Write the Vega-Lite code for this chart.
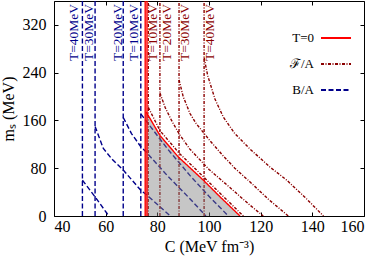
{
  "$schema": "https://vega.github.io/schema/vega-lite/v6.json",
  "width": 310,
  "height": 215,
  "autosize": {"type": "none"},
  "padding": {"left": 54, "top": 1, "right": 10, "bottom": 41},
  "background": "white",
  "config": {
    "font": "Liberation Serif, Times New Roman, serif",
    "view": {"stroke": "black", "strokeWidth": 1},
    "axis": {"grid": false, "domainColor": "black", "tickColor": "black", "labelColor": "black", "titleColor": "black", "labelFont": "Liberation Serif, Times New Roman, serif", "titleFont": "Liberation Serif, Times New Roman, serif", "titleFontWeight": "normal"}
  },
  "datasets": {
    "lines": [
      {"id": "b40v", "s": "B/A", "o": 0, "C": 51.0, "m": 0},
      {"id": "b40v", "s": "B/A", "o": 1, "C": 51.0, "m": 360},
      {"id": "b30v", "s": "B/A", "o": 0, "C": 55.9, "m": 0},
      {"id": "b30v", "s": "B/A", "o": 1, "C": 55.9, "m": 360},
      {"id": "b20v", "s": "B/A", "o": 0, "C": 66.8, "m": 0},
      {"id": "b20v", "s": "B/A", "o": 1, "C": 66.8, "m": 360},
      {"id": "b10v", "s": "B/A", "o": 0, "C": 73.6, "m": 0},
      {"id": "b10v", "s": "B/A", "o": 1, "C": 73.6, "m": 360},
      {"id": "b40c", "s": "B/A", "o": 0, "C": 51.0, "m": 60},
      {"id": "b40c", "s": "B/A", "o": 1, "C": 55.9, "m": 32},
      {"id": "b40c", "s": "B/A", "o": 2, "C": 60.4, "m": 5},
      {"id": "b40c", "s": "B/A", "o": 3, "C": 61.2, "m": 0},
      {"id": "b30c", "s": "B/A", "o": 0, "C": 55.9, "m": 150},
      {"id": "b30c", "s": "B/A", "o": 1, "C": 59.1, "m": 113},
      {"id": "b30c", "s": "B/A", "o": 2, "C": 62.5, "m": 95},
      {"id": "b30c", "s": "B/A", "o": 3, "C": 66.8, "m": 77},
      {"id": "b30c", "s": "B/A", "o": 4, "C": 73.6, "m": 43},
      {"id": "b30c", "s": "B/A", "o": 5, "C": 75.7, "m": 36},
      {"id": "b30c", "s": "B/A", "o": 6, "C": 85.0, "m": 0},
      {"id": "b20c", "s": "B/A", "o": 0, "C": 66.8, "m": 165},
      {"id": "b20c", "s": "B/A", "o": 1, "C": 70.0, "m": 138},
      {"id": "b20c", "s": "B/A", "o": 2, "C": 73.6, "m": 116},
      {"id": "b20c", "s": "B/A", "o": 3, "C": 75.7, "m": 107},
      {"id": "b20c", "s": "B/A", "o": 4, "C": 84.0, "m": 67},
      {"id": "b20c", "s": "B/A", "o": 5, "C": 92.6, "m": 29},
      {"id": "b20c", "s": "B/A", "o": 6, "C": 98.8, "m": 0},
      {"id": "b10c", "s": "B/A", "o": 0, "C": 73.6, "m": 171},
      {"id": "b10c", "s": "B/A", "o": 1, "C": 75.7, "m": 159},
      {"id": "b10c", "s": "B/A", "o": 2, "C": 84.0, "m": 112},
      {"id": "b10c", "s": "B/A", "o": 3, "C": 92.6, "m": 68},
      {"id": "b10c", "s": "B/A", "o": 4, "C": 100.0, "m": 33},
      {"id": "b10c", "s": "B/A", "o": 5, "C": 107.5, "m": 0},
      {"id": "f10v", "s": "ℱ/A", "o": 0, "C": 76.5, "m": 0},
      {"id": "f10v", "s": "ℱ/A", "o": 1, "C": 76.5, "m": 360},
      {"id": "f20v", "s": "ℱ/A", "o": 0, "C": 81.0, "m": 0},
      {"id": "f20v", "s": "ℱ/A", "o": 1, "C": 81.0, "m": 360},
      {"id": "f30v", "s": "ℱ/A", "o": 0, "C": 88.4, "m": 0},
      {"id": "f30v", "s": "ℱ/A", "o": 1, "C": 88.4, "m": 360},
      {"id": "f40v", "s": "ℱ/A", "o": 0, "C": 98.1, "m": 0},
      {"id": "f40v", "s": "ℱ/A", "o": 1, "C": 98.1, "m": 360},
      {"id": "f10c", "s": "ℱ/A", "o": 0, "C": 76.5, "m": 182},
      {"id": "f10c", "s": "ℱ/A", "o": 1, "C": 81.0, "m": 143},
      {"id": "f10c", "s": "ℱ/A", "o": 2, "C": 88.5, "m": 105},
      {"id": "f10c", "s": "ℱ/A", "o": 3, "C": 98.0, "m": 65},
      {"id": "f10c", "s": "ℱ/A", "o": 4, "C": 105.0, "m": 35},
      {"id": "f10c", "s": "ℱ/A", "o": 5, "C": 113.3, "m": 0},
      {"id": "f20c", "s": "ℱ/A", "o": 0, "C": 81.0, "m": 206},
      {"id": "f20c", "s": "ℱ/A", "o": 1, "C": 83.0, "m": 182},
      {"id": "f20c", "s": "ℱ/A", "o": 2, "C": 85.5, "m": 160},
      {"id": "f20c", "s": "ℱ/A", "o": 3, "C": 88.5, "m": 137},
      {"id": "f20c", "s": "ℱ/A", "o": 4, "C": 92.6, "m": 112},
      {"id": "f20c", "s": "ℱ/A", "o": 5, "C": 100.0, "m": 78},
      {"id": "f20c", "s": "ℱ/A", "o": 6, "C": 108.0, "m": 48},
      {"id": "f20c", "s": "ℱ/A", "o": 7, "C": 115.9, "m": 18},
      {"id": "f20c", "s": "ℱ/A", "o": 8, "C": 121.0, "m": 0},
      {"id": "f30c", "s": "ℱ/A", "o": 0, "C": 88.4, "m": 228},
      {"id": "f30c", "s": "ℱ/A", "o": 1, "C": 90.0, "m": 200},
      {"id": "f30c", "s": "ℱ/A", "o": 2, "C": 92.6, "m": 172},
      {"id": "f30c", "s": "ℱ/A", "o": 3, "C": 95.0, "m": 155},
      {"id": "f30c", "s": "ℱ/A", "o": 4, "C": 100.0, "m": 128},
      {"id": "f30c", "s": "ℱ/A", "o": 5, "C": 105.0, "m": 103},
      {"id": "f30c", "s": "ℱ/A", "o": 6, "C": 110.0, "m": 80},
      {"id": "f30c", "s": "ℱ/A", "o": 7, "C": 115.9, "m": 57},
      {"id": "f30c", "s": "ℱ/A", "o": 8, "C": 123.0, "m": 28},
      {"id": "f30c", "s": "ℱ/A", "o": 9, "C": 130.7, "m": 0},
      {"id": "f40c", "s": "ℱ/A", "o": 0, "C": 98.1, "m": 265},
      {"id": "f40c", "s": "ℱ/A", "o": 1, "C": 99.5, "m": 235},
      {"id": "f40c", "s": "ℱ/A", "o": 2, "C": 102.3, "m": 196},
      {"id": "f40c", "s": "ℱ/A", "o": 3, "C": 105.5, "m": 166},
      {"id": "f40c", "s": "ℱ/A", "o": 4, "C": 110.0, "m": 138},
      {"id": "f40c", "s": "ℱ/A", "o": 5, "C": 115.9, "m": 112},
      {"id": "f40c", "s": "ℱ/A", "o": 6, "C": 123.6, "m": 82},
      {"id": "f40c", "s": "ℱ/A", "o": 7, "C": 130.1, "m": 60},
      {"id": "f40c", "s": "ℱ/A", "o": 8, "C": 137.0, "m": 32},
      {"id": "f40c", "s": "ℱ/A", "o": 9, "C": 144.3, "m": 0}
    ],
    "red": [
      {"id": "r0a", "s": "T=0", "o": 0, "C": 75.3, "m": 0},
      {"id": "r0a", "s": "T=0", "o": 1, "C": 75.3, "m": 360},
      {"id": "r0b", "s": "T=0", "o": 0, "C": 76.0, "m": 0},
      {"id": "r0b", "s": "T=0", "o": 1, "C": 76.0, "m": 360},
      {"id": "r1", "s": "T=0", "o": 0, "C": 75.7, "m": 174},
      {"id": "r1", "s": "T=0", "o": 1, "C": 81.0, "m": 135},
      {"id": "r1", "s": "T=0", "o": 2, "C": 88.1, "m": 99},
      {"id": "r1", "s": "T=0", "o": 3, "C": 97.8, "m": 60},
      {"id": "r1", "s": "T=0", "o": 4, "C": 104.3, "m": 32},
      {"id": "r1", "s": "T=0", "o": 5, "C": 112.0, "m": 0}
    ],
    "gray": [
      {"C": 75.3, "m": 174},
      {"C": 75.7, "m": 174},
      {"C": 81.0, "m": 135},
      {"C": 88.1, "m": 99},
      {"C": 97.8, "m": 60},
      {"C": 104.3, "m": 32},
      {"C": 112.0, "m": 0}
    ],
    "labels": [
      {"t": "T=40MeV", "s": "B/A", "C": 47.9, "m": 355},
      {"t": "T=30MeV", "s": "B/A", "C": 53.5, "m": 355},
      {"t": "T=20MeV", "s": "B/A", "C": 64.6, "m": 355},
      {"t": "T=10MeV", "s": "B/A", "C": 70.8, "m": 355},
      {"t": "T=10MeV", "s": "ℱ/A", "C": 78.2, "m": 355},
      {"t": "T=20MeV", "s": "ℱ/A", "C": 83.7, "m": 355},
      {"t": "T=30MeV", "s": "ℱ/A", "C": 90.9, "m": 355},
      {"t": "T=40MeV", "s": "ℱ/A", "C": 100.2, "m": 355}
    ]
  },
  "encoding": {
    "x": {"field": "C", "type": "quantitative", "scale": {"domain": [40, 160], "nice": false, "zero": false}},
    "y": {"field": "m", "type": "quantitative", "scale": {"domain": [0, 360], "nice": false}}
  },
  "layer": [
    {
      "data": {"name": "lines"},
      "mark": {"type": "line", "strokeWidth": 1.4, "clip": true},
      "encoding": {
        "x": {"field": "C", "type": "quantitative", "axis": {"orient": "bottom", "values": [40, 60, 80, 100, 120, 140, 160], "labelFont": "Liberation Serif, Times New Roman, serif", "labelFontSize": 16, "tickSize": -4, "labelPadding": 6, "title": "C (MeV fm⁻³)", "titleFont": "Liberation Serif, Times New Roman, serif", "titleFontSize": 16, "titlePadding": 4, "domain": false}},
        "y": {"field": "m", "type": "quantitative", "axis": {"orient": "left", "values": [0, 80, 160, 240, 320], "labelFont": "Liberation Serif, Times New Roman, serif", "labelFontSize": 16, "tickSize": -4, "labelPadding": 12, "title": "mₛ (MeV)", "titleFont": "Liberation Serif, Times New Roman, serif", "titleFontSize": 16, "titlePadding": 6, "domain": false}},
        "color": {"field": "s", "type": "nominal", "scale": {"domain": ["T=0", "ℱ/A", "B/A"], "range": ["#ff0000", "#8b0000", "#00008b"]},
          "legend": {"orient": "none", "legendX": 266, "legendY": 21, "title": null, "symbolType": "stroke", "symbolSize": 900, "symbolStrokeWidth": 2, "labelAlign": "right", "labelOffset": -38, "labelFontSize": 13, "labelFont": "Liberation Serif, Times New Roman, serif", "labelColor": "black", "rowPadding": 3, "padding": 0, "symbolOffset": 0}},
        "strokeDash": {"field": "s", "type": "nominal", "scale": {"domain": ["T=0", "ℱ/A", "B/A"], "range": [[1, 0], [3, 1.5, 1, 1.5], [5, 2.5]]}},
        "detail": {"field": "id"},
        "order": {"field": "o", "type": "quantitative"}
      }
    },
    {
      "data": {"name": "gray"},
      "mark": {"type": "area", "color": "#808080", "opacity": 0.45},
      "encoding": {
        "x": {"field": "C", "type": "quantitative", "axis": null},
        "y": {"field": "m", "type": "quantitative", "axis": null},
        "y2": {"datum": 0}
      }
    },
    {
      "data": {"name": "red"},
      "mark": {"type": "line", "strokeWidth": 1.4, "clip": true},
      "encoding": {
        "x": {"field": "C", "type": "quantitative", "axis": {"orient": "top", "values": [40, 60, 80, 100, 120, 140, 160], "labels": false, "tickSize": -4, "title": null, "domain": false}},
        "y": {"field": "m", "type": "quantitative", "axis": {"orient": "right", "values": [0, 80, 160, 240, 320], "labels": false, "tickSize": -4, "title": null, "domain": false}},
        "color": {"field": "s", "type": "nominal"},
        "strokeDash": {"field": "s", "type": "nominal"},
        "detail": {"field": "id"},
        "order": {"field": "o", "type": "quantitative"}
      }
    },
    {
      "data": {"name": "labels"},
      "mark": {"type": "text", "angle": 270, "align": "right", "baseline": "middle", "fontSize": 13.5, "font": "Liberation Serif, Times New Roman, serif"},
      "encoding": {
        "x": {"field": "C", "type": "quantitative", "axis": null},
        "y": {"field": "m", "type": "quantitative", "axis": null},
        "text": {"field": "t"},
        "color": {"field": "s", "type": "nominal", "legend": null}
      }
    }
  ],
  "resolve": {"axis": {"x": "independent", "y": "independent"}}
}
